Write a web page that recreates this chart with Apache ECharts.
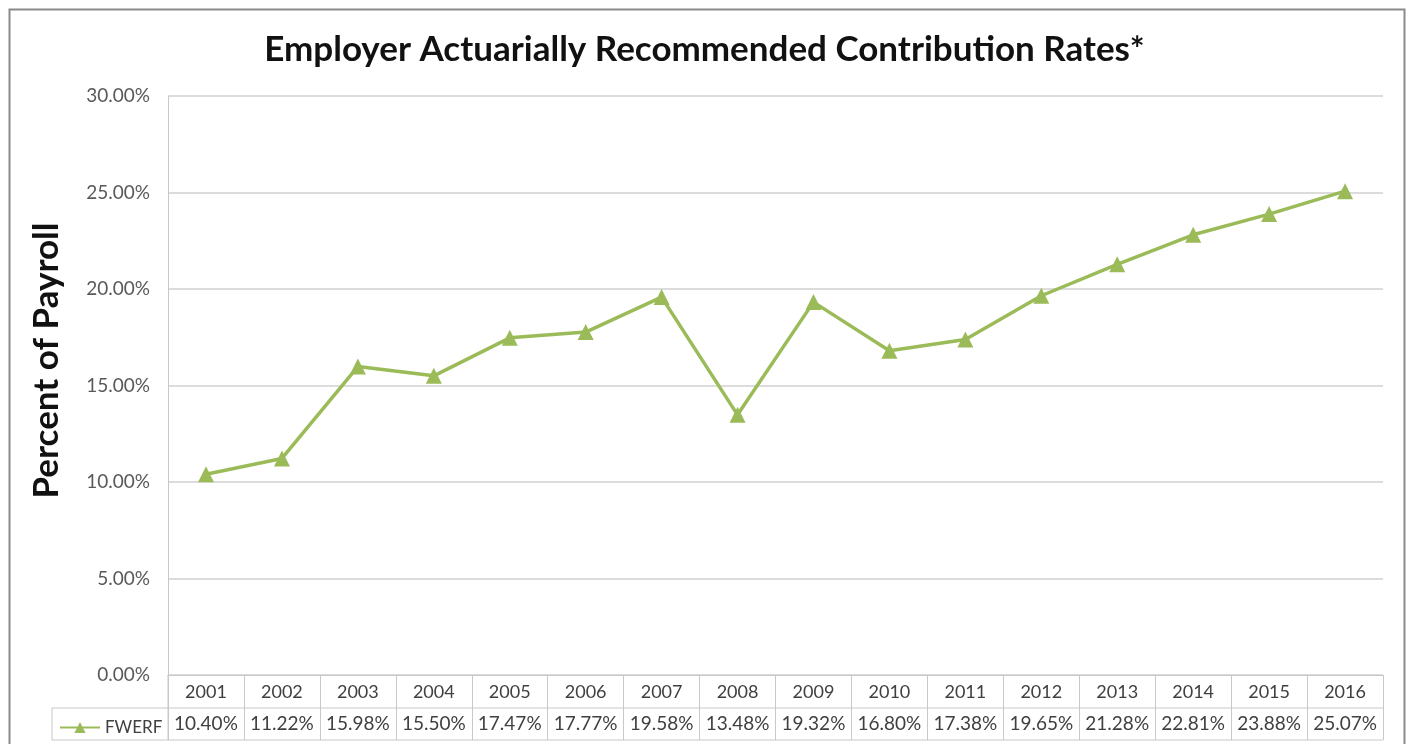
<!DOCTYPE html>
<html><head><meta charset="utf-8">
<script src="https://cdn.jsdelivr.net/npm/echarts@6/dist/echarts.min.js"></script>
<style>html,body{margin:0;padding:0;background:#fff}#c{width:1409px;height:744px}</style>
</head><body><div id="c"></div>
<script>
const years = ['2001','2002','2003','2004','2005','2006','2007','2008','2009','2010','2011','2012','2013','2014','2015','2016'];
const fwerf = [10.40,11.22,15.98,15.50,17.47,17.77,19.58,13.48,19.32,16.80,17.38,19.65,21.28,22.81,23.88,25.07];
const yTicks = {min:0, max:30, interval:5};
const seriesName = 'FWERF';
const titleText = 'Employer Actuarially Recommended Contribution Rates*';
const yName = 'Percent of Payroll';

const FONT = 'Lato';
const G = {left:168, right:26, top:96, bottom:69};
const chart = echarts.init(document.getElementById('c'));
const tableLine = '#c8c8c8';
chart.setOption({
  animation:false,
  backgroundColor:'#fff',
  title:{text:titleText, left:'center', top:27, textStyle:{fontFamily:FONT, fontWeight:'bold', fontSize:35, color:'#111'}},
  legend:{left:54, top:714, itemWidth:40, itemHeight:14, itemGap:2,
    textStyle:{fontFamily:FONT, fontSize:17, color:'#404040'}, data:[seriesName]},
  grid:G,
  xAxis:{type:'category', data:years, boundaryGap:true,
    axisLine:{show:true, lineStyle:{color:tableLine, width:1}},
    axisTick:{show:true, length:65, lineStyle:{color:tableLine, width:1}},
    axisLabel:{margin:1, interval:0,
      formatter:(v,i)=>'{y|'+v+'}\n{v|'+fwerf[i].toFixed(2)+'%}',
      rich:{y:{fontFamily:FONT, fontSize:18, color:'#404040', height:32, align:'center'},
            v:{fontFamily:FONT, fontSize:19, color:'#404040', height:32, align:'center'}}}},
  yAxis:{type:'value', min:yTicks.min, max:yTicks.max, interval:yTicks.interval,
    name:yName, nameLocation:'middle', nameGap:104, nameRotate:90,
    nameTextStyle:{fontFamily:FONT, fontWeight:'bold', fontSize:35, color:'#111', padding:[0,0,0,50]},
    axisLine:{show:true, lineStyle:{color:tableLine}},
    axisTick:{show:false},
    splitLine:{lineStyle:{color:'#d0d0d0', width:1.5}},
    axisLabel:{margin:18, formatter:v=>v.toFixed(2)+'%', fontFamily:FONT, fontSize:19, color:'#595959'}},
  series:[{name:seriesName, type:'line', data:fwerf, symbol:'triangle', symbolSize:16,
    lineStyle:{color:'#9bbb59', width:3.5}, itemStyle:{color:'#9bbb59'}}],
  graphic:[
    {type:'rect', left:7, top:7, shape:{width:1395, height:760}, style:{fill:'none', stroke:'#8a8a8a', lineWidth:2}, silent:true},
    {type:'line', shape:{x1:52, y1:708, x2:1383, y2:708}, style:{stroke:tableLine, lineWidth:1}, silent:true},
    {type:'line', shape:{x1:52, y1:740, x2:1383, y2:740}, style:{stroke:tableLine, lineWidth:1}, silent:true},
    {type:'line', shape:{x1:52, y1:708, x2:52, y2:740}, style:{stroke:tableLine, lineWidth:1}, silent:true},
    {type:'line', shape:{x1:168, y1:675, x2:168, y2:740}, style:{stroke:tableLine, lineWidth:1}, silent:true}
  ]
});
</script></body></html>
